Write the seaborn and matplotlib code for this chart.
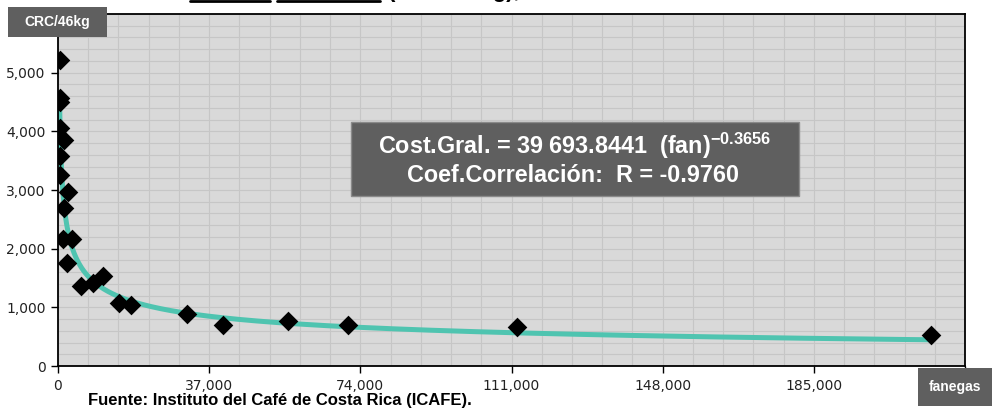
import numpy as np
import pandas as pd
import seaborn as sns
import matplotlib.pyplot as plt
from matplotlib.lines import Line2D
from matplotlib.patches import Rectangle
from matplotlib.ticker import FuncFormatter, MultipleLocator

# volumen procesado (fanegas) y costo general (CRC/46kg) por beneficio
fanegas = [420, 600, 500, 400, 1550, 400, 450, 2370, 1550, 1300, 3350, 2130,
           5560, 8650, 10950, 15050, 17800, 31500, 40500, 56400, 71100,
           112300, 213700]
costo = [5220, 4560, 4500, 4050, 3860, 3580, 3250, 2960, 2690, 2170, 2170, 1750,
         1370, 1420, 1540, 1075, 1045, 890, 695, 760, 700, 660, 530]

# trendline potencial reportada en el grafico
coef_a = 39693.8441
coef_b = -0.3656
r_corr = -0.9760

df = pd.DataFrame({"fanegas": fanegas, "costo": costo})
xs = np.geomspace(min(fanegas), max(fanegas), 400)
trend = pd.DataFrame({"fanegas": xs, "costo": coef_a * xs ** coef_b})

sns.set_theme(style="white")
plt.rcParams["font.family"] = ["Liberation Sans", "DejaVu Sans"]
plt.rcParams["mathtext.fontset"] = "custom"
plt.rcParams["mathtext.rm"] = "Liberation Sans"
plt.rcParams["mathtext.bf"] = "Liberation Sans:bold"

fig = plt.figure(figsize=(9.92, 4.2), dpi=100)
ax = fig.add_axes([58 / 992, 1 - 366 / 420, 907 / 992, 352 / 420])
ax.set_facecolor("#d9d9d9")

sns.lineplot(data=trend, x="fanegas", y="costo", ax=ax, color="#4fc4b0",
             linewidth=3.6, zorder=2)
sns.scatterplot(data=df, x="fanegas", y="costo", ax=ax, marker="D", s=100,
                color="black", edgecolor="black", linewidth=0, zorder=3)

ax.set_xlim(0, 222000)
ax.set_ylim(0, 6000)
ax.xaxis.set_major_locator(MultipleLocator(37000))
ax.xaxis.set_minor_locator(MultipleLocator(7400))
ax.yaxis.set_major_locator(MultipleLocator(1000))
ax.yaxis.set_minor_locator(MultipleLocator(200))
ax.grid(which="both", color="#c6c6c6", linewidth=0.8)
ax.set_axisbelow(True)

ax.xaxis.set_major_formatter(FuncFormatter(lambda v, p: "" if v > 200000 else f"{v:,.0f}"))
ax.yaxis.set_major_formatter(FuncFormatter(lambda v, p: "" if v > 5500 else f"{v:,.0f}"))
ax.tick_params(which="major", direction="out", length=5, width=1, color="black",
               labelsize=10, labelcolor="#222222", labelfontfamily="DejaVu Sans",
               pad=4, left=True, bottom=True)
ax.tick_params(which="minor", length=0)
for s in ax.spines.values():
    s.set_visible(True)
    s.set_color("black")
    s.set_linewidth(1.3)
ax.set_xlabel("")
ax.set_ylabel("")

# cuadro con la ecuacion
ax.add_patch(Rectangle((0.323, 0.483), 0.494, 0.210, transform=ax.transAxes,
                       facecolor="#5f5f5f", edgecolor="#8a8a8a", linewidth=1, zorder=4))
ax.text(0.570, 0.625,
        r"Cost.Gral. = 39 693.8441  (fan)$^{\mathbf{" + f"{coef_b:.4f}" + "}}$",
        transform=ax.transAxes, ha="center", va="center", color="white",
        fontsize=16.8, fontweight="bold", zorder=5)
ax.text(0.568, 0.540, f"Coef.Correlación:  R = {r_corr:.4f}",
        transform=ax.transAxes, ha="center", va="center", color="white",
        fontsize=16.8, fontweight="bold", zorder=5)

# etiquetas de ejes en cajas grises
fig.add_artist(Rectangle((8 / 992, 1 - 37 / 420), 99 / 992, 30 / 420,
                         transform=fig.transFigure, facecolor="#5f5f5f", edgecolor="none"))
fig.text(57.5 / 992, 1 - 22 / 420, "CRC/46kg", ha="center", va="center", color="white",
         fontsize=10, fontweight="bold")
fig.add_artist(Rectangle((918 / 992, 1 - 406 / 420), 74 / 992, 38 / 420,
                         transform=fig.transFigure, facecolor="#5f5f5f", edgecolor="none"))
fig.text(955 / 992, 1 - 387 / 420, "fanegas", ha="center", va="center", color="white",
         fontsize=10, fontweight="bold")

# titulo cortado en el borde superior
fig.text(190 / 992, 1 + 3 / 420, "Costo   General", ha="left",
         va="baseline", fontsize=16, fontweight="bold", color="black")
fig.text(388 / 992, 1 + 3 / 420, "(CRC/46 kg),", ha="left",
         va="baseline", fontsize=16, fontweight="bold", color="black")
fig.add_artist(Line2D([190 / 992, 270 / 992], [1 - 0.8 / 420] * 2, color="black", lw=2))
fig.add_artist(Line2D([277 / 992, 380 / 992], [1 - 0.8 / 420] * 2, color="black", lw=2))

fig.text(88 / 992, 1 - 401 / 420, "Fuente: Instituto del Café de Costa Rica (ICAFE).",
         ha="left", va="center", fontsize=12, fontweight="bold", color="black")

fig.savefig("out.png", dpi=100)
